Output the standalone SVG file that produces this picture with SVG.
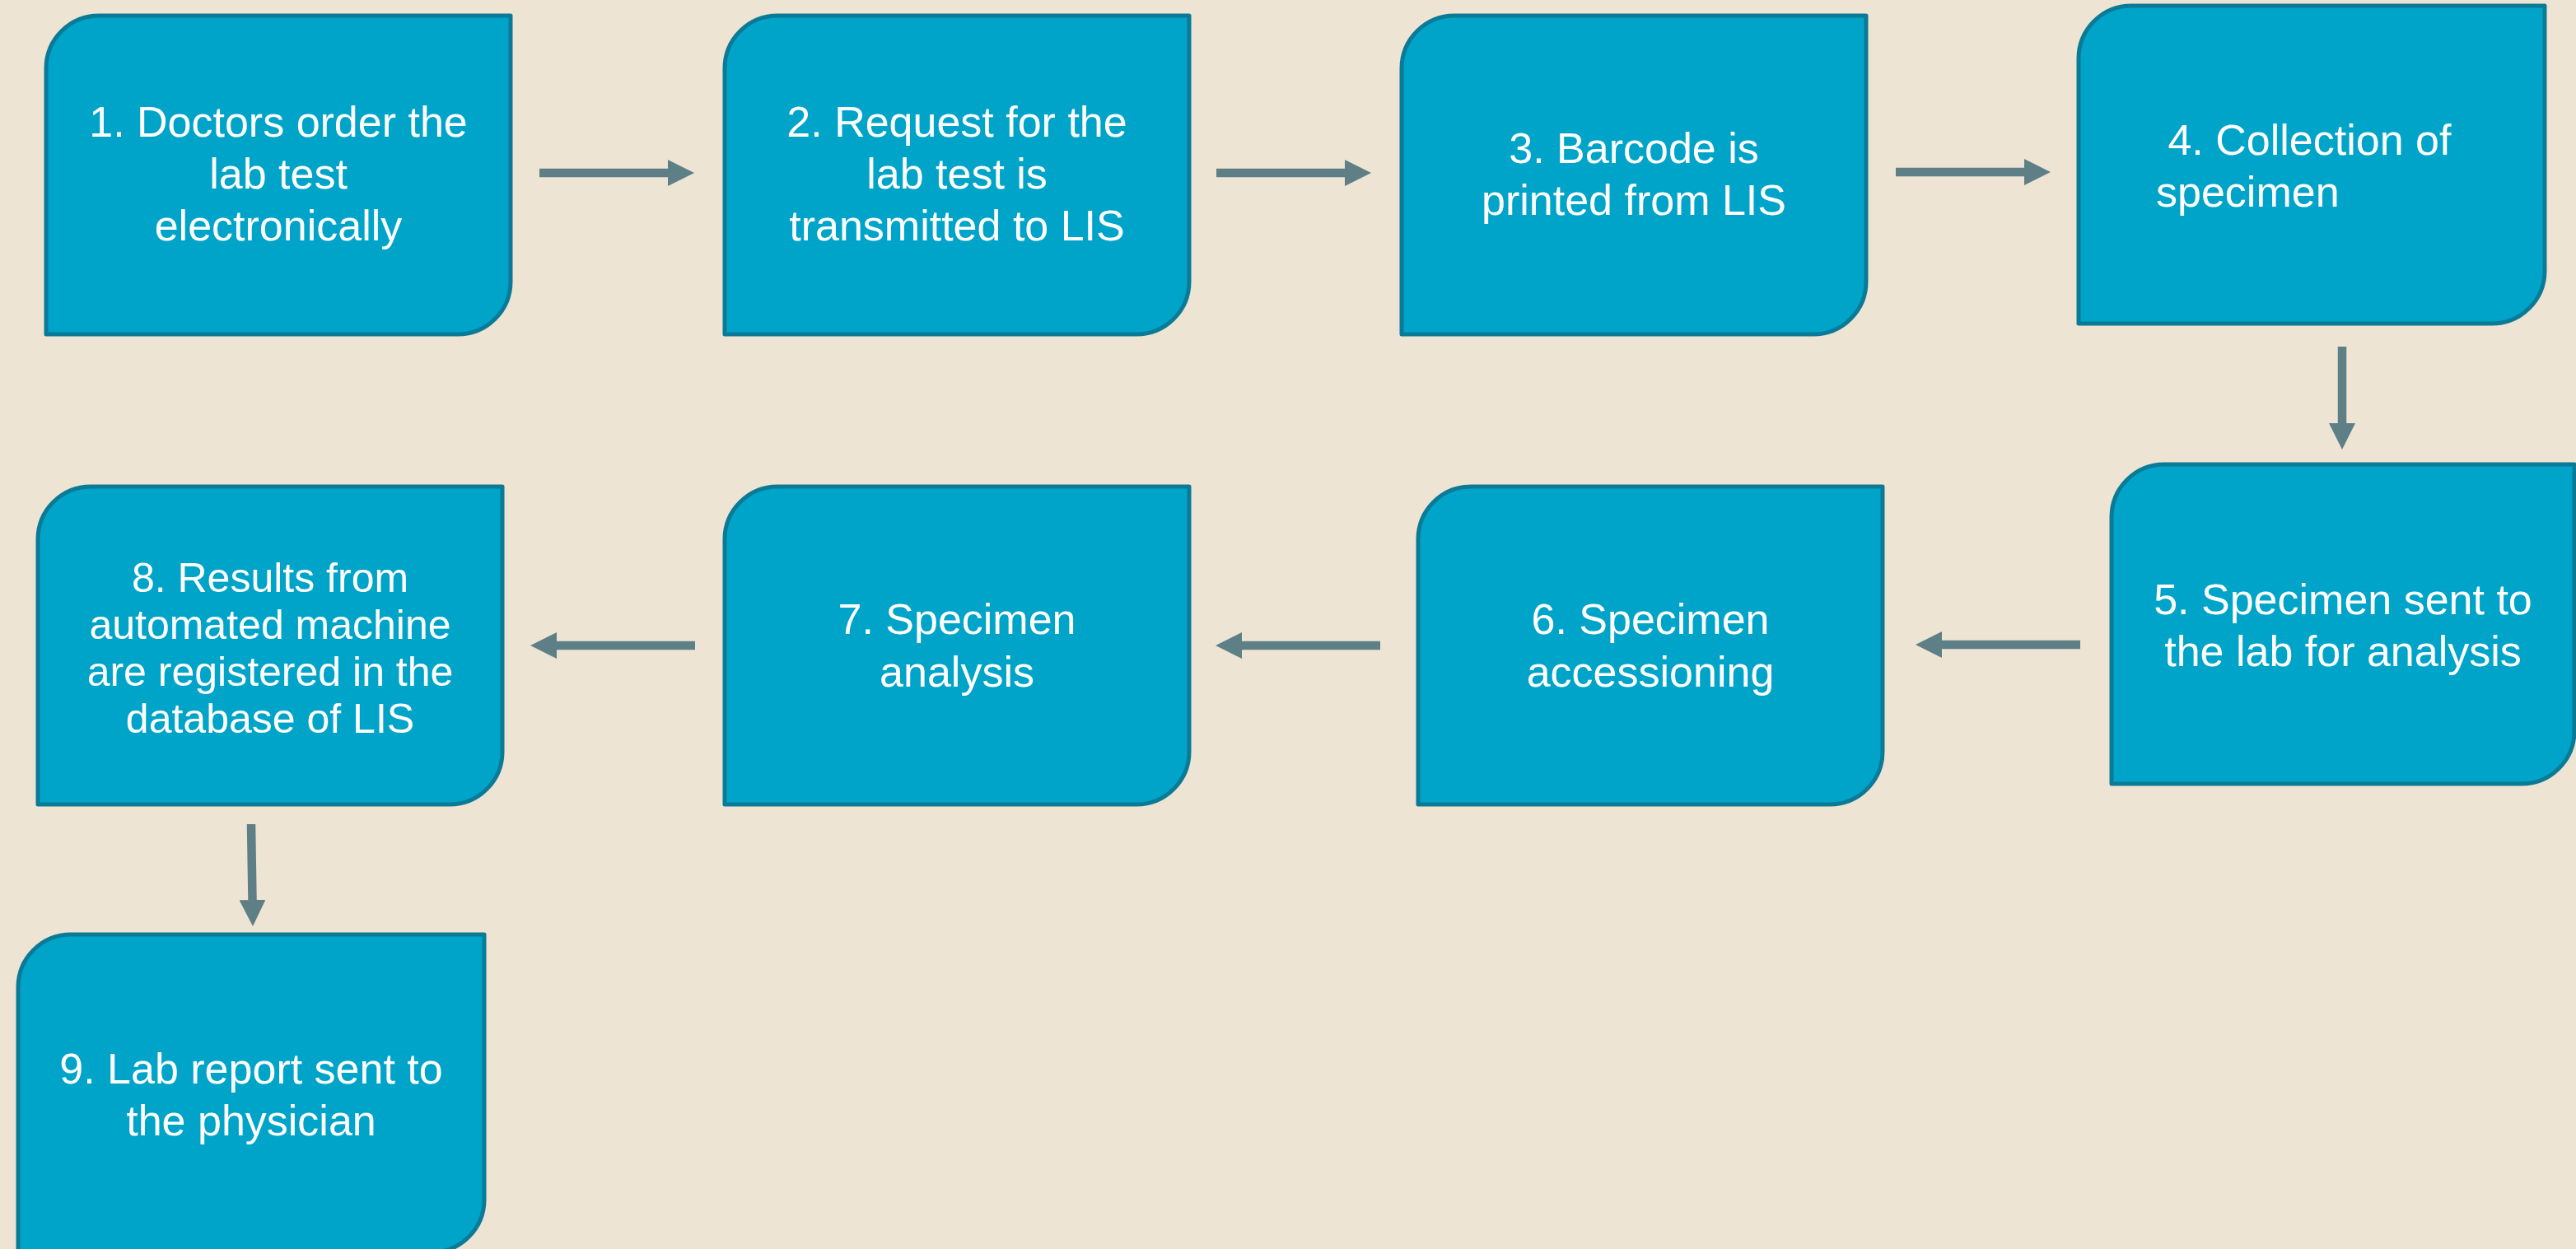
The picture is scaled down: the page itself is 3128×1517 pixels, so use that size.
<svg xmlns="http://www.w3.org/2000/svg" width="3128" height="1517" viewBox="0 0 3128 1517">
  <defs>
    <style>
      .node { fill: #00A4C9; stroke: #0B7A96; stroke-width: 5; stroke-linejoin: round; }
      .lbl { font-family: "Liberation Sans", Arial, sans-serif; font-size: 52px; fill: #FFFFFF; text-anchor: middle; }
      .lbl8 { font-size: 50px; }
      .left { text-anchor: start; }
      .conn { fill: none; stroke: #5F7F87; stroke-width: 10.5; stroke-linecap: butt; }
    </style>
    <marker id="ah" viewBox="0 0 32 32" markerUnits="userSpaceOnUse" markerWidth="32" markerHeight="32" refX="0" refY="16" orient="auto">
      <path d="M0,0 L32,16 L0,32 Z" fill="#5F7F87"/>
    </marker>
  </defs>
  <rect x="0" y="0" width="3128" height="1517" fill="#EDE4D3"/>

  <g id="connectors">
    <path class="conn" d="M655,210 H811" marker-end="url(#ah)"/>
    <path class="conn" d="M1477,210 H1633" marker-end="url(#ah)"/>
    <path class="conn" d="M2302,209 H2458" marker-end="url(#ah)"/>
    <path class="conn" d="M2844,421 V514" marker-end="url(#ah)"/>
    <path class="conn" d="M2526,783 H2358" marker-end="url(#ah)"/>
    <path class="conn" d="M1676,784 H1508" marker-end="url(#ah)"/>
    <path class="conn" d="M844,784 H676" marker-end="url(#ah)"/>
    <path class="conn" d="M305,1001 L306.5,1093" marker-end="url(#ah)"/>
  </g>

  <g id="node1">
    <path class="node" d="M56,83 A64,64 0 0 1 120,19 H620 V342 A64,64 0 0 1 556,406 H56 Z"/>
    <text class="lbl"><tspan x="338" y="166">1. Doctors order the</tspan><tspan x="338" y="229">lab test</tspan><tspan x="338" y="292">electronically</tspan></text>
  </g>
  <g id="node2">
    <path class="node" d="M880,83 A64,64 0 0 1 944,19 H1444 V342 A64,64 0 0 1 1380,406 H880 Z"/>
    <text class="lbl"><tspan x="1162" y="166">2. Request for the</tspan><tspan x="1162" y="229">lab test is</tspan><tspan x="1162" y="292">transmitted to LIS</tspan></text>
  </g>
  <g id="node3">
    <path class="node" d="M1702,83 A64,64 0 0 1 1766,19 H2266 V342 A64,64 0 0 1 2202,406 H1702 Z"/>
    <text class="lbl"><tspan x="1984" y="198">3. Barcode is</tspan><tspan x="1984" y="261">printed from LIS</tspan></text>
  </g>
  <g id="node4">
    <path class="node" d="M2524,71 A64,64 0 0 1 2588,7 H3090 V329 A64,64 0 0 1 3026,393 H2524 Z"/>
    <text class="lbl left" xml:space="preserve"><tspan x="2618" y="188"> 4. Collection of</tspan><tspan x="2618" y="251">specimen</tspan></text>
  </g>
  <g id="node5">
    <path class="node" d="M2564,628 A64,64 0 0 1 2628,564 H3126 V888 A64,64 0 0 1 3062,952 H2564 Z"/>
    <text class="lbl"><tspan x="2845" y="746">5. Specimen sent to</tspan><tspan x="2845" y="809">the lab for analysis</tspan></text>
  </g>
  <g id="node6">
    <path class="node" d="M1722,655 A64,64 0 0 1 1786,591 H2286 V913 A64,64 0 0 1 2222,977 H1722 Z"/>
    <text class="lbl"><tspan x="2004" y="770">6. Specimen</tspan><tspan x="2004" y="834">accessioning</tspan></text>
  </g>
  <g id="node7">
    <path class="node" d="M880,655 A64,64 0 0 1 944,591 H1444 V913 A64,64 0 0 1 1380,977 H880 Z"/>
    <text class="lbl"><tspan x="1162" y="770">7. Specimen</tspan><tspan x="1162" y="834">analysis</tspan></text>
  </g>
  <g id="node8">
    <path class="node" d="M46,655 A64,64 0 0 1 110,591 H610 V913 A64,64 0 0 1 546,977 H46 Z"/>
    <text class="lbl lbl8"><tspan x="328" y="719">8. Results from</tspan><tspan x="328" y="776">automated machine</tspan><tspan x="328" y="833">are registered in the</tspan><tspan x="328" y="890">database of LIS</tspan></text>
  </g>
  <g id="node9">
    <path class="node" d="M22,1199 A64,64 0 0 1 86,1135 H588 V1457 A64,64 0 0 1 524,1521 H22 Z"/>
    <text class="lbl"><tspan x="305" y="1316">9. Lab report sent to</tspan><tspan x="305" y="1379">the physician</tspan></text>
  </g>
</svg>
